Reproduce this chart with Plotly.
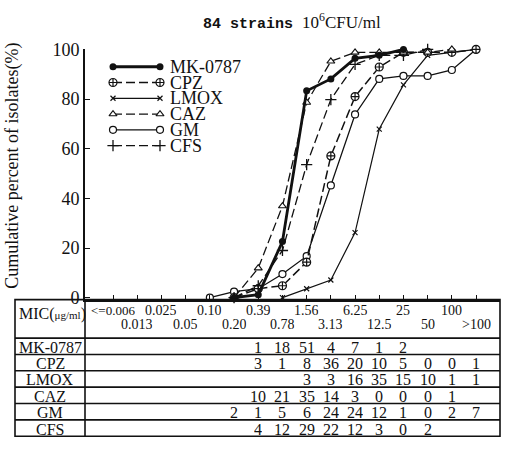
import plotly.graph_objects as go

W, H = 509, 450

mic_labels = ["<=0.006", "0.013", "0.025", "0.05", "0.10", "0.20", "0.39", "0.78",
              "1.56", "3.13", "6.25", "12.5", "25", "50", "100", ">100"]
drugs = ["MK-0787", "CPZ", "LMOX", "CAZ", "GM", "CFS"]

# number of isolates per MIC column (table), None = blank cell
cnt_mk   = [None, None, None, None, None, None, 1, 18, 51, 4, 7, 1, 2, None, None, None]
cnt_cpz  = [None, None, None, None, None, None, 3, 1, 8, 36, 20, 10, 5, 0, 0, 1]
cnt_lmox = [None, None, None, None, None, None, None, None, 3, 3, 16, 35, 15, 10, 1, 1]
cnt_caz  = [None, None, None, None, None, None, 10, 21, 35, 14, 3, 0, 0, 0, 1, None]
cnt_gm   = [None, None, None, None, None, 2, 1, 5, 6, 24, 24, 12, 1, 0, 2, 7]
cnt_cfs  = [None, None, None, None, None, None, 4, 12, 29, 22, 12, 3, 0, 2, None, None]

# cumulative percent of isolates (curves)
cum_mk   = [None, None, None, None, None, 0, 1.2, 22.6, 83.3, 88.1, 96.4, 97.6, 100, None, None, None]
cum_cpz  = [None, None, None, None, None, 0, 3.6, 4.8, 14.3, 57.1, 81.0, 92.9, 98.8, 98.8, 98.8, 100]
cum_lmox = [None, None, None, None, None, None, None, 0, 3.6, 7.1, 26.2, 67.9, 85.7, 97.6, 98.8, 100]
cum_caz  = [None, None, None, None, None, 0, 11.9, 36.9, 78.6, 95.2, 98.8, 98.8, 98.8, 98.8, 100, None]
cum_gm   = [None, None, None, None, 0, 2.4, 3.6, 9.5, 16.7, 45.2, 73.8, 88.1, 89.3, 89.3, 91.7, 100]
cum_cfs  = [None, None, None, None, None, 0, 4.8, 19.0, 53.6, 79.8, 94.0, 97.6, 97.6, 100, None, None]

counts = [cnt_mk, cnt_cpz, cnt_lmox, cnt_caz, cnt_gm, cnt_cfs]
cums = [cum_mk, cum_cpz, cum_lmox, cum_caz, cum_gm, cum_cfs]

SERIF = "Liberation Serif, Times New Roman, serif"
BLACK = "#111111"

styles = [
    dict(line=dict(color=BLACK, width=2.8), marker=dict(symbol="circle", size=7, color=BLACK)),
    dict(line=dict(color=BLACK, width=1.5, dash="9px,4px"),
         marker=dict(symbol="circle-cross", size=8, color="white", line=dict(color=BLACK, width=1.2))),
    dict(line=dict(color=BLACK, width=1.2),
         marker=dict(symbol="x-thin", size=5, color=BLACK, line=dict(color=BLACK, width=1.2))),
    dict(line=dict(color=BLACK, width=1.3, dash="9px,4px"),
         marker=dict(symbol="triangle-up", size=7, color="white", line=dict(color=BLACK, width=1.1))),
    dict(line=dict(color=BLACK, width=1.3),
         marker=dict(symbol="circle", size=7, color="white", line=dict(color=BLACK, width=1.2))),
    dict(line=dict(color=BLACK, width=1.3, dash="9px,4px"),
         marker=dict(symbol="cross-thin", size=8, color=BLACK, line=dict(color=BLACK, width=1.3))),
]

def px(v):  # pixel x -> paper
    return v / W

def py(v):  # pixel y (from top) -> paper
    return 1 - v / H

fig = go.Figure()
xs = list(range(len(mic_labels)))
order = [2, 4, 1, 5, 3, 0]
for k in order:
    fig.add_trace(go.Scatter(x=xs, y=cums[k], mode="lines+markers", name=drugs[k],
                             line=styles[k]["line"], marker=styles[k]["marker"],
                             cliponaxis=False, showlegend=False))

# custom legend drawn on a full-figure helper axis (pixel units)
leg_y0, leg_dy = 60, 16.4
for k, d in enumerate(drugs):
    yy = leg_y0 + k * leg_dy
    fig.add_trace(go.Scatter(x=[113, 160], y=[yy, yy], mode="lines+markers",
                             line=styles[k]["line"], marker=styles[k]["marker"],
                             xaxis="x2", yaxis="y2", showlegend=False, cliponaxis=False,
                             hoverinfo="skip"))
    fig.add_annotation(x=168, y=yy, xref="x2", yref="y2", text=d, showarrow=False,
                       xanchor="left", yanchor="middle", height=16,
                       font=dict(family=SERIF, size=18, color=BLACK))

# table geometry
tab_l, tab_r, tab_t, tab_b = 15, 500, 302, 444
div_x = 85
head_b = 342
row_h = 17
lw = 1.6
fig.add_shape(type="rect", xref="paper", yref="paper", x0=px(tab_l), x1=px(tab_r),
              y0=py(tab_b), y1=py(tab_t), line=dict(color=BLACK, width=lw))
fig.add_shape(type="line", xref="paper", yref="paper", x0=px(div_x), x1=px(div_x),
              y0=py(tab_b), y1=py(tab_t), line=dict(color=BLACK, width=lw))
for k in range(len(drugs)):
    yl = head_b + k * row_h
    fig.add_shape(type="line", xref="paper", yref="paper", x0=px(tab_l), x1=px(tab_r),
                  y0=py(yl), y1=py(yl), line=dict(color=BLACK, width=lw))

# header
fig.add_annotation(x=px(17), y=py(317), xref="paper", yref="paper", showarrow=False,
                   xanchor="left", yanchor="middle",
                   text="MIC(<span style='font-size:11px'>μg/ml</span>)",
                   font=dict(family=SERIF, size=16, color=BLACK))
for i, lab in enumerate(mic_labels):
    yy = 313 if i % 2 == 0 else 327
    fig.add_annotation(x=i, y=py(yy), xref="x", yref="paper", text=lab, showarrow=False,
                       xanchor="center", yanchor="middle", height=14,
                       font=dict(family=SERIF, size=13 if i == 0 else 14, color=BLACK))

# rows
for k, d in enumerate(drugs):
    yc = head_b + k * row_h + row_h / 2 + 0.5
    fig.add_annotation(x=px(50), y=py(yc), xref="paper", yref="paper", text=d,
                       showarrow=False, xanchor="center", yanchor="middle", height=16,
                       font=dict(family=SERIF, size=16, color=BLACK))
    for i, c in enumerate(counts[k]):
        if c is None:
            continue
        fig.add_annotation(x=i, y=py(yc), xref="x", yref="paper", text=str(c),
                           showarrow=False, xanchor="center", yanchor="middle", height=16,
                           font=dict(family=SERIF, size=16, color=BLACK))

# title
fig.add_annotation(x=px(292), y=py(13), xref="paper", yref="paper", showarrow=False,
                   xanchor="center", yanchor="middle",
                   text="<b>84 strains</b> <span style='font-family:Liberation Serif;font-size:17px'>10<sup>6</sup>CFU/ml</span>",
                   font=dict(family="Liberation Mono, DejaVu Sans Mono, monospace", size=15, color=BLACK))

# y axis title
fig.add_annotation(x=px(13), y=py(163), xref="paper", yref="paper", showarrow=False,
                   textangle=-90, xanchor="center", yanchor="middle",
                   text="Cumulative percent of isolates(%)",
                   font=dict(family=SERIF, size=18, color=BLACK))

# axes
y_bottom_px, y_top_px = 302, 41.2
fig.update_layout(
    width=W, height=H,
    margin=dict(l=0, r=0, t=0, b=0),
    paper_bgcolor="white", plot_bgcolor="rgba(0,0,0,0)",
    showlegend=False,
    xaxis=dict(domain=[px(div_x), px(tab_r)], range=[-1.16, 15.99],
               tickvals=xs, showticklabels=False, ticks="inside", ticklen=5,
               tickcolor=BLACK, tickwidth=1.3, showline=True, linecolor=BLACK, linewidth=lw,
               showgrid=False, zeroline=False, fixedrange=True),
    yaxis=dict(domain=[py(y_bottom_px), py(y_top_px)], range=[-0.78, 100.3],
               tickvals=[0, 20, 40, 60, 80, 100], ticks="inside", ticklen=5,
               tickcolor=BLACK, tickwidth=1.3, showline=True, linecolor=BLACK, linewidth=lw,
               showgrid=False, zeroline=False,
               tickfont=dict(family=SERIF, size=18, color=BLACK), fixedrange=True),
    xaxis2=dict(domain=[0, 1], range=[0, W], visible=False, anchor="y2", fixedrange=True),
    yaxis2=dict(domain=[0, 1], range=[H, 0], visible=False, anchor="x2", fixedrange=True),
)

fig.write_html("out.html")
